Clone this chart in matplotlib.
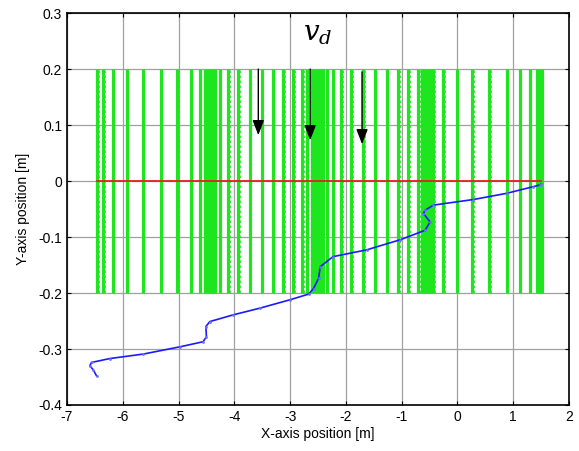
import matplotlib
matplotlib.use("Agg")
import matplotlib.pyplot as plt
import numpy as np

# --- data ---
green_x = [-6.46, -6.35, -6.18, -5.93, -5.64, -5.32, -5.02, -4.78, -4.62, -4.53,
           -4.49, -4.45, -4.40, -4.35, -4.26, -4.11, -3.93, -3.72, -3.51, -3.31,
           -3.12, -2.94, -2.78, -2.70, -2.60, -2.55, -2.50, -2.45, -2.41, -2.34,
           -2.23, -2.08, -1.90, -1.69, -1.48, -1.27, -1.06, -0.88, -0.70, -0.64,
           -0.58, -0.52, -0.47, -0.43, -0.25, -0.01, 0.27, 0.57, 0.88, 1.12,
           1.30, 1.42, 1.47, 1.51]
green_y_low, green_y_high = -0.2, 0.2

ref_x = [-6.46, 1.50]
ref_y = [0.0, 0.0]

traj_x = [1.50, 1.48, 1.36, 0.88, 0.285, -0.43, -0.58, -0.61, -0.49, -0.58,
          -1.03, -1.63, -2.23, -2.46, -2.49, -2.58, -2.67, -3.00, -3.54, -4.02,
          -4.44, -4.51, -4.50, -4.56, -4.97, -5.63, -6.23, -6.56, -6.59, -6.53, -6.47]
traj_y = [-0.005, -0.007, -0.010, -0.022, -0.033, -0.043, -0.052, -0.058, -0.073, -0.088,
          -0.105, -0.123, -0.135, -0.153, -0.174, -0.192, -0.202, -0.212, -0.227, -0.239,
          -0.251, -0.260, -0.278, -0.287, -0.296, -0.309, -0.317, -0.324, -0.330, -0.337, -0.348]

arrow_x = [-3.57, -2.64, -1.71]
arrow_y0 = [0.200, 0.200, 0.195]
arrow_y1 = [0.082, 0.073, 0.066]

xticks = [-7, -6, -5, -4, -3, -2, -1, 0, 1, 2]
yticks = [-0.4, -0.3, -0.2, -0.1, 0, 0.1, 0.2, 0.3]

plt.rcParams['font.family'] = ['Liberation Sans', 'DejaVu Sans']
plt.rcParams['mathtext.fontset'] = 'dejavuserif'

fig = plt.figure(figsize=(5.79, 4.51), dpi=100)
ax = fig.add_axes([0.1157, 0.102, 0.8670, 0.869])

green = '#1ee61e'
for gx in green_x:
    ax.plot([gx, gx], [green_y_low, green_y_high], color=green, lw=2.3, zorder=2,
            solid_capstyle='butt')
    ax.plot([gx + 0.025, gx + 0.025], [green_y_low, green_y_high], color=green, lw=1.2,
            ls=(0, (1.5, 1.5)), zorder=2)

ax.plot(ref_x, ref_y, color='#e02020', lw=1.3, zorder=3)

ax.plot(traj_x, traj_y, color='#1a1aff', lw=1.2, zorder=4)
ax.plot(traj_x, traj_y, color='#6f6fff', lw=0, marker='.', ms=2, zorder=4)

for ax_, y0, y1 in zip(arrow_x, arrow_y0, arrow_y1):
    ax.annotate('', xy=(ax_, y1), xytext=(ax_, y0),
                arrowprops=dict(arrowstyle='-|>,head_length=0.9,head_width=0.35',
                                color='black', lw=1.0, shrinkA=0, shrinkB=0),
                zorder=5)

ax.text(-2.5, 0.262, r'$v_d$', fontsize=20, ha='center', va='center')

ax.set_xlim(-7, 2)
ax.set_ylim(-0.4, 0.3)
ax.set_xticks(xticks)
ax.set_yticks(yticks)
ax.set_xticklabels([f'{t:g}' for t in xticks])
ax.set_yticklabels([f'{t:g}' for t in yticks])
ax.grid(True, color='#a0a0a0', lw=0.9)
ax.set_axisbelow(True)
ax.tick_params(direction='in', length=3, labelsize=10, top=True, right=True,
               labeltop=False, labelright=False)
for s in ax.spines.values():
    s.set_linewidth(1.2)
ax.set_xlabel('X-axis position [m]', fontsize=10, labelpad=2)
ax.set_ylabel('Y-axis position [m]', fontsize=10, labelpad=6)

fig.savefig('out.png', dpi=100)
